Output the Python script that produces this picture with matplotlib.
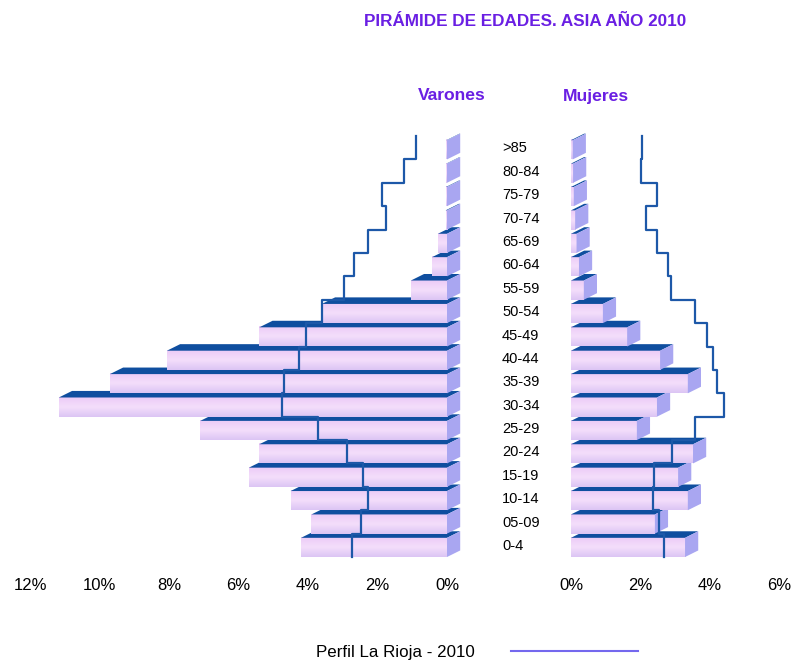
import numpy as np
import matplotlib.pyplot as plt
from matplotlib.patches import Polygon
from matplotlib.lines import Line2D
from matplotlib.colors import LinearSegmentedColormap
from matplotlib.transforms import blended_transform_factory

plt.rcParams['font.family'] = ['Liberation Sans', 'DejaVu Sans']

# age groups, bottom to top
ages = ['0-4', '05-09', '10-14', '15-19', '20-24', '25-29', '30-34', '35-39', '40-44',
        '45-49', '50-54', '55-59', '60-64', '65-69', '70-74', '75-79', '80-84', '>85']

# Asia 2010 (%)
varones = [4.2, 3.9, 4.5, 5.7, 5.4, 7.1, 11.17, 9.7, 8.06, 5.4, 3.6, 1.04, 0.43, 0.26,
           0.04, 0.03, 0.02, 0.02]
mujeres = [3.29, 2.42, 3.37, 3.09, 3.52, 1.90, 2.48, 3.37, 2.57, 1.62, 0.92, 0.37, 0.23,
           0.16, 0.12, 0.08, 0.06, 0.05]

# Perfil La Rioja 2010 (%)
rioja_varones = [2.73, 2.47, 2.27, 2.42, 2.88, 3.71, 4.75, 4.69, 4.26, 4.06, 3.6, 2.96,
                 2.68, 2.27, 1.76, 1.87, 1.24, 0.89]
rioja_mujeres = [2.68, 2.54, 2.37, 2.39, 2.91, 3.58, 4.41, 4.21, 4.10, 3.92, 3.58, 2.88,
                 2.80, 2.48, 2.16, 2.48, 2.02, 2.05]

ticks_left = [12, 10, 8, 6, 4, 2, 0]
ticks_right = [0, 2, 4, 6]

purple = '#6a1fe3'
top_col = '#0f4e9f'
side_col = '#a9a6f1'
line_col = '#1d58a8'
front_cmap = LinearSegmentedColormap.from_list('front', ['#eccbf7', '#f4defb', '#dcc5f4'])
grad = np.linspace(0, 1, 32).reshape(-1, 1)

W, H = 792, 661
fig = plt.figure(figsize=(W / 100, H / 100), dpi=100)
axL = fig.add_axes([30 / W, 1 - 557 / H, (447 - 30) / W, (557 - 136) / H])
axR = fig.add_axes([571 / W, 1 - 557 / H, (779 - 571) / W, (557 - 136) / H])

# bar geometry in data units
y_lo, y_hi = -0.5, 0.32
dy = 0.28
depth = 0.38


def draw_bars(ax, values, sign):
    # sign=+1: bars grow to the right on screen; depth always goes screen-right
    for i, v in enumerate(values):
        z = 2 + i * 0.1
        b, t = i + y_lo, i + y_hi
        ax.imshow(grad, cmap=front_cmap, extent=[0, v, b, t], aspect='auto',
                  interpolation='bilinear', zorder=z)
        d = depth * sign
        # top face
        ax.add_patch(Polygon([(0, t), (v, t), (v + d, t + dy), (0 + d, t + dy)],
                             closed=True, facecolor=top_col, edgecolor='none',
                             zorder=z + 0.01, clip_on=False))
        # side face at the screen-right end
        xe = v if sign > 0 else 0
        ax.add_patch(Polygon([(xe, b), (xe, t), (xe + d, t + dy), (xe + d, b + dy)],
                             closed=True, facecolor=side_col, edgecolor='none',
                             zorder=z + 0.02, clip_on=False))


def step_profile(ax, values):
    n = len(values)
    edges = np.arange(n + 1) - 0.5
    ys = np.repeat(edges, 2)[1:-1]
    xs = np.repeat(values, 2)
    ax.plot(xs, ys, color=line_col, lw=1.6, zorder=20, clip_on=False)


draw_bars(axL, varones, -1)
draw_bars(axR, mujeres, 1)
step_profile(axL, rioja_varones)
step_profile(axR, rioja_mujeres)

axL.set_xlim(12, 0)
axR.set_xlim(0, 6)
for ax, tk in ((axL, ticks_left), (axR, ticks_right)):
    ax.set_ylim(-0.5, 17.5)
    ax.set_xticks(tk)
    ax.set_xticklabels([f'{t}%' for t in tk], fontsize=12)
    ax.tick_params(axis='x', length=0, pad=15)
    ax.set_yticks([])
    for s in ax.spines.values():
        s.set_visible(False)
    ax.patch.set_alpha(0)

# age labels in the centre
tr = blended_transform_factory(fig.transFigure, axR.transData)
for i, a in enumerate(ages):
    fig.text(502 / W, i - 0.03, a, transform=tr, ha='left', va='center', fontsize=10.5)

fig.text(525 / W, 1 - 21 / H, 'PIRÁMIDE DE EDADES. ASIA AÑO 2010', ha='center', va='center',
         fontsize=12.3, fontweight='bold', color=purple)
fig.text(452 / W, 1 - 96 / H, 'Varones', ha='center', va='center', fontsize=12.6,
         fontweight='bold', color=purple)
fig.text(596 / W, 1 - 96 / H, 'Mujeres', ha='center', va='center', fontsize=12.6,
         fontweight='bold', color=purple)

handle = Line2D([], [], color='#7468ee', lw=1.5)
fig.legend(handles=[handle], labels=['Perfil La Rioja - 2010'], loc='center',
           bbox_to_anchor=(477 / W, 1 - 652 / H), frameon=False, markerfirst=False,
           handlelength=7.5, handletextpad=2.1, fontsize=12.2)

fig.savefig('out.png', dpi=100)
